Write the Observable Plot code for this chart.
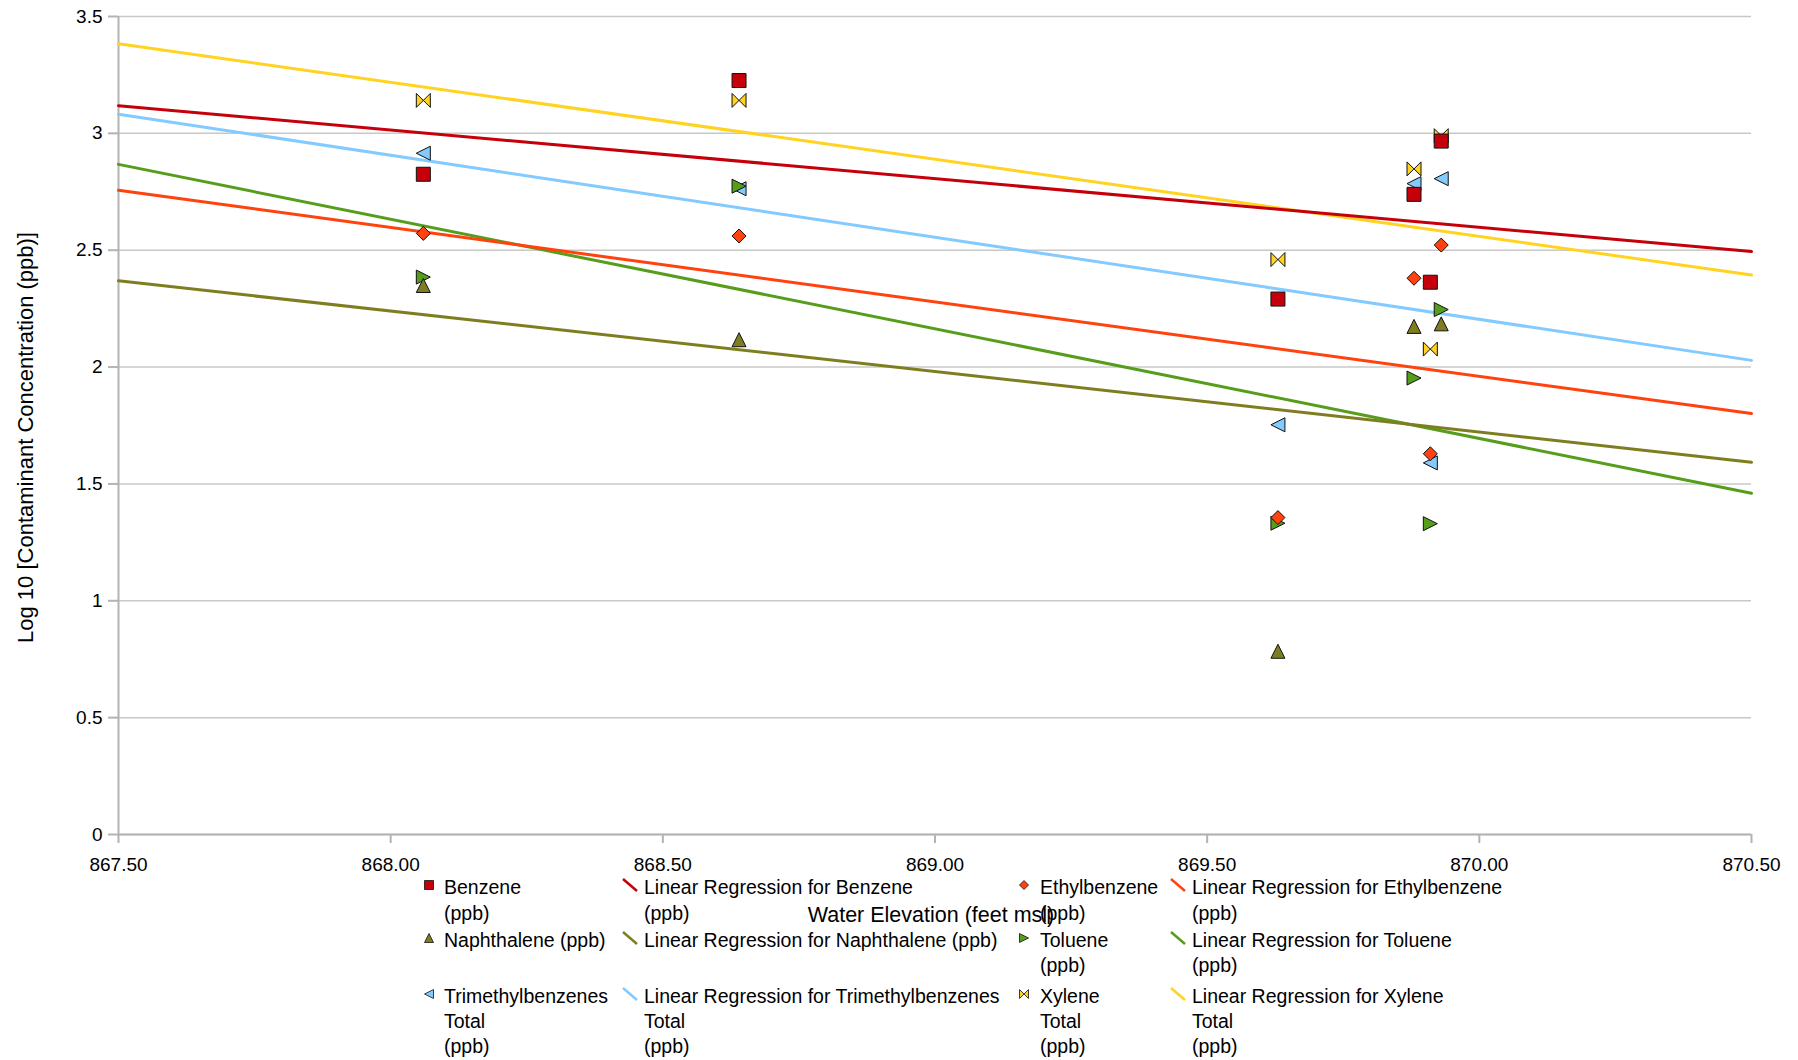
<!DOCTYPE html>
<html><head><meta charset="utf-8">
<script src="https://cdn.jsdelivr.net/npm/d3@7"></script>
<script src="https://cdn.jsdelivr.net/npm/@observablehq/plot@0.6"></script>
<style>body{margin:0;background:#fff;} #chart{width:1798px;height:1060px;}</style>
</head><body><div id="chart"></div>
<script>
// ---- data ----
const elevations = [868.06, 868.64, 869.63, 869.88, 869.91, 869.93];
const benzene = [2.825, 3.226, 2.291, 2.739, 2.363, 2.967];
const ethylbenzene = [2.572, 2.561, 1.356, 2.380, 1.629, 2.522];
const naphthalene = [2.349, 2.117, 0.784, 2.174, null, 2.185];
const toluene = [2.385, 2.774, 1.332, 1.953, 1.330, 2.246];
const trimethylbenzenes = [2.915, 2.763, 1.753, 2.785, 1.590, 2.806];
const xylene = [3.141, 3.141, 2.460, 2.848, 2.077, 2.990];
const seriesNames = ["Benzene (ppb)", "Ethylbenzene (ppb)", "Naphthalene (ppb)", "Toluene (ppb)", "Trimethylbenzenes Total (ppb)", "Xylene Total (ppb)"];
const seriesColors = ["#c5000b", "#ff420e", "#7e7e21", "#579d1c", "#83caff", "#ffd320"];
const xTicks = [867.5, 868, 868.5, 869, 869.5, 870, 870.5];
const yTicks = [0, 0.5, 1, 1.5, 2, 2.5, 3, 3.5];
const xTitle = "Water Elevation (feet msl)";
const yTitle = "Log 10 [Contaminant Concentration (ppb)]";
const legendMarkerLines = [["Benzene","(ppb)"],["Ethylbenzene","(ppb)"],["Naphthalene (ppb)"],["Toluene","(ppb)"],["Trimethylbenzenes","Total","(ppb)"],["Xylene","Total","(ppb)"]];
const legendLineLines = [["Linear Regression for Benzene","(ppb)"],["Linear Regression for Ethylbenzene","(ppb)"],["Linear Regression for Naphthalene (ppb)"],["Linear Regression for Toluene","(ppb)"],["Linear Regression for Trimethylbenzenes","Total","(ppb)"],["Linear Regression for Xylene","Total","(ppb)"]];

const seriesValues = [benzene, ethylbenzene, naphthalene, toluene, trimethylbenzenes, xylene];

// ---- custom marker shapes ----
const rad = (size) => Math.sqrt(size / Math.PI);
const symSquare = {draw(c, s){ const r = rad(s); c.rect(-r, -r, 2*r, 2*r); }};
const symDiamond = {draw(c, s){ const r = rad(s); c.moveTo(0,-r); c.lineTo(r,0); c.lineTo(0,r); c.lineTo(-r,0); c.closePath(); }};
const symTriUp = {draw(c, s){ const r = rad(s); c.moveTo(0,-r); c.lineTo(r,r); c.lineTo(-r,r); c.closePath(); }};
const symTriRight = {draw(c, s){ const r = rad(s); c.moveTo(-r,-r); c.lineTo(r,0); c.lineTo(-r,r); c.closePath(); }};
const symTriLeft = {draw(c, s){ const r = rad(s); c.moveTo(r,-r); c.lineTo(-r,0); c.lineTo(r,r); c.closePath(); }};
const symBowtie = {draw(c, s){ const r = rad(s); c.moveTo(-r,-r); c.lineTo(r,r); c.lineTo(r,-r); c.lineTo(-r,r); c.closePath(); }};
const seriesSymbols = [symSquare, symDiamond, symTriUp, symTriRight, symTriLeft, symBowtie];

// ---- regression ----
function fit(xs, ys) {
  const pts = xs.map((x, i) => [x, ys[i]]).filter(d => d[1] != null);
  const mx = d3.mean(pts, d => d[0]), my = d3.mean(pts, d => d[1]);
  const sxy = d3.sum(pts, d => (d[0] - mx) * (d[1] - my));
  const sxx = d3.sum(pts, d => (d[0] - mx) ** 2);
  const b = sxy / sxx;
  return x => my + b * (x - mx);
}
const xDomain = d3.extent(xTicks);
const order = d3.range(seriesNames.length).reverse();

const lineMarks = order.map(i => {
  const f = fit(elevations, seriesValues[i]);
  const data = xDomain.map(x => ({x, y: f(x)}));
  return Plot.line(data, {x: "x", y: "y", stroke: seriesColors[i], strokeWidth: 3});
});
const dotMarks = order.map(i => {
  const data = elevations.map((x, j) => ({x, y: seriesValues[i][j]})).filter(d => d.y != null);
  return Plot.dot(data, {x: "x", y: "y", symbol: seriesSymbols[i], r: 7, fill: seriesColors[i], stroke: "#111", strokeWidth: 1});
});

const chart = Plot.plot({
  width: 1798, height: 1060,
  marginLeft: 118, marginRight: 47, marginTop: 16, marginBottom: 226,
  x: {domain: xDomain},
  y: {domain: d3.extent(yTicks)},
  style: {fontFamily: "'Liberation Sans', Arial, sans-serif", fontSize: "19px", background: "#fff", color: "#000"},
  marks: [
    Plot.gridY(yTicks, {stroke: "#c8c8c8", strokeOpacity: 1, strokeWidth: 1.5}),
    Plot.ruleX([xDomain[0]], {stroke: "#b3b3b3", strokeWidth: 2}),
    Plot.ruleY([yTicks[0]], {stroke: "#b3b3b3", strokeWidth: 2}),
    Plot.axisY({ticks: yTicks, tickFormat: d => String(d), tickSize: 10, tickPadding: 6, fontSize: 19, stroke: "#b3b3b3", strokeWidth: 2, fill: "#000", label: null}),
    Plot.axisX({ticks: xTicks, tickFormat: d3.format(".2f"), tickSize: 9, tickPadding: 14, fontSize: 19, stroke: "#b3b3b3", strokeWidth: 2, fill: "#000", label: null}),
    ...lineMarks,
    ...dotMarks,
    Plot.text([xTitle], {text: d => d, frameAnchor: "bottom", dy: 87, dx: -4, fontSize: 21.5, fill: "#000"}),
    Plot.text([yTitle], {text: d => d, frameAnchor: "left", dx: -93, dy: 12, rotate: -90, fontSize: 22, textAnchor: "middle", lineAnchor: "middle", fill: "#000"})
  ]
});
document.getElementById("chart").appendChild(chart);

// ---- legend (LibreOffice-style, below the plot, overlapping the axis title) ----
const colSymX = [429, 630, 1024, 1178];
const colTextX = [444, 644, 1040, 1192];
const rowBaselines = [[894, 920], [947, 972], [1003, 1028, 1053]];
const lg = d3.select(chart).append("g")
  .attr("font-family", "'Liberation Sans', Arial, sans-serif")
  .attr("font-size", 19.5).attr("fill", "#000").attr("text-anchor", "start");
seriesNames.forEach((name, i) => {
  const row = Math.floor(i / 2);
  const cm = (i % 2) * 2, cl = cm + 1;
  const base = rowBaselines[row];
  const sy = base[0] - 9;
  lg.append("path")
    .attr("d", d3.symbol(seriesSymbols[i], Math.PI * 4.5 * 4.5)())
    .attr("transform", `translate(${colSymX[cm]},${sy})`)
    .attr("fill", seriesColors[i]).attr("stroke", "#111").attr("stroke-width", 0.8);
  legendMarkerLines[i].forEach((t, k) => {
    lg.append("text").attr("x", colTextX[cm]).attr("y", base[k]).attr("text-anchor", "start").text(t);
  });
  lg.append("line")
    .attr("x1", colSymX[cl] - 7).attr("y1", sy - 6)
    .attr("x2", colSymX[cl] + 7).attr("y2", sy + 6)
    .attr("stroke", seriesColors[i]).attr("stroke-width", 2.5);
  legendLineLines[i].forEach((t, k) => {
    lg.append("text").attr("x", colTextX[cl]).attr("y", base[k]).attr("text-anchor", "start").text(t);
  });
});
</script>
</body></html>
